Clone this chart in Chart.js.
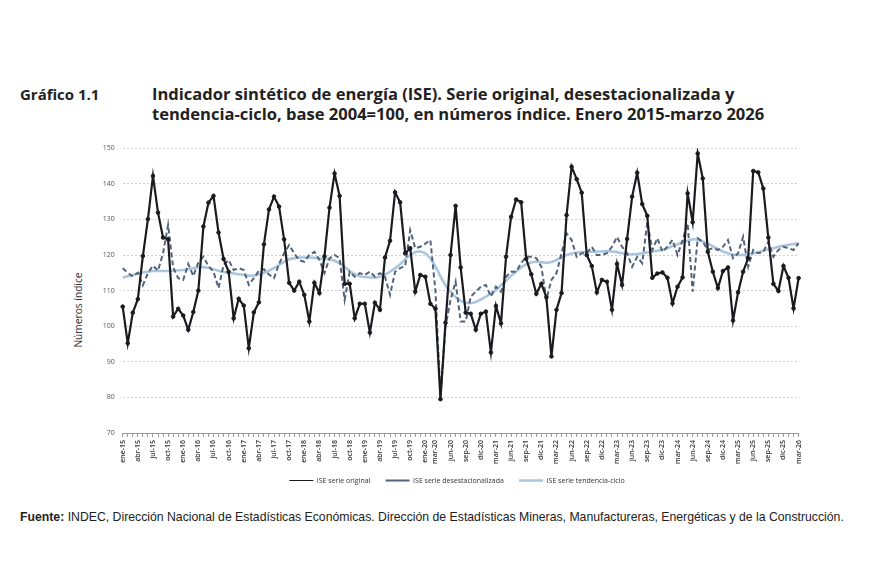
<!DOCTYPE html>
<html lang="es">
<head>
<meta charset="utf-8">
<script src="https://cdn.jsdelivr.net/npm/chart.js@4.4.0/dist/chart.umd.min.js"></script>
<style>
  body { margin: 0; background: #fff; width: 870px; height: 580px; position: relative; overflow: hidden; font-family: 'Open Sans', sans-serif; color: #222; }
  .num { position: absolute; left: 20px; top: 84px; font-weight: 700; font-size: 15px; }
  .tit { position: absolute; left: 152px; top: 84px; font-weight: 700; font-size: 16.55px; line-height: 20px; }
  .ytit { position: absolute; left: 78px; top: 310px; transform: translate(-50%, -50%) rotate(-90deg); font-size: 10.2px; color: #333; white-space: nowrap; }
  .chart-box { position: absolute; left: 60px; top: 136px; width: 750px; height: 358px; }
  .fuente { position: absolute; left: 20px; top: 510px; font-family: 'Liberation Sans', Arial, sans-serif; font-size: 12.25px; }
</style>
</head>
<body>
<div class="num">Gráfico 1.1</div>
<div class="tit">Indicador sintético de energía (ISE). Serie original, desestacionalizada y<br>tendencia-ciclo, base 2004=100, en números índice. Enero 2015-marzo 2026</div>
<div class="ytit">Números índice</div>
<div class="chart-box"><canvas id="ise_chart"></canvas></div>
<div class="fuente"><b>Fuente:</b> INDEC, Dirección Nacional de Estadísticas Económicas. Dirección de Estadísticas Mineras, Manufactureras, Energéticas y de la Construcción.</div>
<script>
// meses y años del período
const meses = ['ene', 'feb', 'mar', 'abr', 'may', 'jun', 'jul', 'ago', 'sep', 'oct', 'nov', 'dic'];
const anios = ['15', '16', '17', '18', '19', '20', '21', '22', '23', '24', '25', '26'];

// etiquetas que se muestran en el eje x
const etiquetasVisibles = [
    'ene-15', 'abr-15', 'jul-15', 'oct-15', 'ene-16', 'abr-16', 'jul-16', 'oct-16',
    'ene-17', 'abr-17', 'jul-17', 'oct-17', 'ene-18', 'abr-18', 'jul-18', 'oct-18',
    'ene-19', 'abr-19', 'jul-19', 'oct-19', 'ene-20', 'mar-20', 'jun-20', 'sep-20',
    'dic-20', 'mar-21', 'jun-21', 'sep-21', 'dic-21', 'mar-22', 'jun-22', 'sep-22',
    'dic-22', 'mar-23', 'jun-23', 'sep-23', 'dic-23', 'mar-24', 'jun-24', 'sep-24',
    'dic-24', 'mar-25', 'jun-25', 'sep-25', 'dic-25', 'mar-26'
];

// ISE serie original
const serieOriginal = [
    105.5, 95.2, 103.8, 107.6, 119.7, 130.1, 142.2, 131.9, 124.9, 124.4, 102.7, 104.9,
    103.0, 99.0, 104.0, 110.0, 128.0, 134.7, 136.6, 126.3, 118.9, 115.3, 102.2, 107.7,
    105.8, 93.8, 103.9, 106.7, 123.0, 132.8, 136.4, 133.6, 124.4, 112.2, 110.0, 112.5,
    108.8, 101.3, 112.2, 109.3, 119.6, 133.3, 142.9, 136.6, 111.9, 111.9, 102.2, 106.3,
    106.3, 98.2, 106.6, 104.6, 119.3, 124.0, 137.6, 134.8, 120.5, 121.9, 109.7, 114.4,
    113.9, 106.3, 104.9, 79.5, 101.0, 120.0, 133.8, 116.5, 103.8, 103.5, 99.0, 103.5,
    104.1, 92.6, 105.7, 100.8, 119.5, 130.7, 135.6, 134.8, 118.9, 114.6, 109.1, 111.9,
    108.1, 91.5, 104.6, 109.3, 131.2, 144.8, 141.3, 137.5, 120.0, 116.9, 109.5, 113.0,
    112.5, 104.6, 117.5, 111.6, 124.5, 136.4, 143.1, 134.3, 131.0, 113.6, 114.8, 115.1,
    113.6, 106.4, 111.1, 113.7, 137.3, 129.2, 148.5, 141.5, 120.9, 115.3, 110.7, 115.5,
    116.5, 101.6, 109.5, 115.3, 119.1, 143.6, 143.2, 138.7, 124.9, 111.9, 109.9, 116.9,
    113.6, 105.0, 113.5
];

// ISE serie desestacionalizada
const serieDesest = [
    116.3, 115.0, 114.0, 115.0, 111.5, 114.9, 117.0, 115.6, 120.5, 128.4, 116.5, 113.5,
    113.0, 117.5, 114.1, 117.9, 119.5, 116.9, 115.3, 110.7, 117.2, 118.6, 115.8, 116.3,
    115.8, 111.6, 113.5, 115.6, 116.0, 114.5, 113.5, 117.5, 120.5, 122.8, 120.5, 118.5,
    118.1, 120.0, 120.9, 118.6, 114.9, 119.1, 120.0, 119.1, 107.4, 115.3, 113.9, 114.9,
    114.4, 115.3, 113.9, 114.9, 113.9, 108.8, 115.3, 116.3, 116.9, 127.0, 121.9, 122.3,
    123.2, 124.2, 110.0, 80.3, 99.9, 107.4, 112.5, 101.3, 101.3, 108.3, 109.7, 111.1,
    111.6, 108.3, 111.1, 109.7, 113.9, 115.3, 115.3, 117.7, 119.5, 119.5, 119.1, 116.7,
    107.5, 113.0, 114.9, 120.5, 126.1, 124.2, 119.5, 120.5, 120.5, 122.3, 120.0, 120.0,
    120.5, 122.3, 125.1, 122.3, 120.5, 116.7, 119.5, 117.7, 129.3, 121.4, 124.7, 120.9,
    122.3, 124.2, 120.0, 124.2, 128.9, 109.7, 124.7, 123.7, 121.4, 121.9, 121.4, 122.3,
    124.2, 119.1, 120.5, 125.1, 116.7, 121.4, 120.5, 120.9, 123.7, 119.5, 121.4, 122.3,
    121.9, 121.4, 123.3
];

// ISE serie tendencia-ciclo
const serieTendencia = [
    113.7, 114.0, 114.4, 114.8, 115.1, 115.3, 115.5, 115.5, 115.5, 115.5, 115.6, 115.7,
    115.8, 116.0, 116.3, 116.5, 116.6, 116.4, 116.0, 115.6, 115.2, 115.0, 114.8, 114.6,
    114.4, 114.2, 114.2, 114.5, 115.0, 115.6, 116.3, 117.2, 118.1, 118.8, 119.1, 119.3,
    119.3, 119.3, 119.2, 119.0, 118.9, 118.8, 118.4, 117.7, 116.6, 115.5, 114.6, 114.0,
    113.8, 113.7, 113.7, 113.9, 114.5, 115.3, 116.3, 117.4, 118.8, 120.0, 120.8, 121.0,
    120.5, 119.0, 116.8, 114.0, 111.5, 109.6, 108.2, 107.2, 106.6, 106.5, 106.8, 107.5,
    108.3, 109.2, 110.2, 111.5, 112.8, 114.1, 115.3, 116.5, 117.4, 117.9, 118.1, 118.0,
    117.8, 118.0, 118.6, 119.3, 120.0, 120.4, 120.7, 120.8, 120.9, 120.9, 121.0, 121.0,
    121.1, 121.0, 120.8, 120.5, 120.3, 120.2, 120.3, 120.5, 120.7, 121.0, 121.2, 121.5,
    121.9, 122.5, 123.0, 123.6, 124.0, 124.4, 124.3, 123.8, 123.2, 122.4, 121.7, 121.0,
    120.5, 120.1, 120.0, 120.0, 120.1, 120.4, 120.8, 121.2, 121.6, 121.9, 122.3, 122.6,
    122.9, 123.1, 123.3
];

// etiquetas mensuales ene-15 ... mar-26
const etiquetas = [];
anios.forEach(a => meses.forEach(m => etiquetas.push(m + '-' + a)));
etiquetas.length = serieOriginal.length;

const ctx = document.getElementById('ise_chart').getContext('2d');

const iseChart = new Chart(ctx, {
    type: 'line',
    data: {
        labels: etiquetas,
        datasets: [
            {
                label: 'ISE serie original',
                data: serieOriginal,
                borderColor: '#1b1b1f',
                backgroundColor: '#1b1b1f',
                borderWidth: 2.2,
                pointRadius: 1.8,
                pointBorderWidth: 1,
                pointHoverRadius: 2.5,
                tension: 0,
                order: 1
            },
            {
                label: 'ISE serie desestacionalizada',
                data: serieDesest,
                borderColor: '#52637a',
                backgroundColor: '#52637a',
                borderWidth: 2,
                borderDash: [5, 3],
                pointRadius: 0,
                tension: 0,
                order: 2
            },
            {
                label: 'ISE serie tendencia-ciclo',
                data: serieTendencia,
                borderColor: '#aac6df',
                backgroundColor: '#aac6df',
                borderWidth: 2.6,
                pointRadius: 0,
                tension: 0.3,
                order: 3
            }
        ]
    },
    options: {
        responsive: true,
        maintainAspectRatio: false,
        animation: false,
        layout: {
            padding: { left: 14, right: 11, top: 0, bottom: 0 }
        },
        plugins: {
            legend: {
                position: 'bottom',
                fullSize: false,
                labels: {
                    color: '#333',
                    font: { family: "'Open Sans', sans-serif", size: 7 },
                    usePointStyle: true,
                    pointStyle: 'line',
                    pointStyleWidth: 24,
                    boxHeight: 7,
                    padding: 8,
                    // espacio extra entre elementos de la leyenda
                    generateLabels: (chart) => {
                        const items = Chart.defaults.plugins.legend.labels.generateLabels(chart);
                        items.forEach(it => { it.text = it.text + '\u00a0\u00a0\u00a0\u00a0'; });
                        return items;
                    }
                }
            },
            tooltip: { enabled: false }
        },
        scales: {
            x: {
                offset: false,
                grid: {
                    drawOnChartArea: false,
                    drawTicks: true,
                    tickLength: 4,
                    color: '#9a9a9a'
                },
                border: { display: true, color: '#9a9a9a' },
                ticks: {
                    autoSkip: false,
                    maxRotation: 90,
                    minRotation: 90,
                    padding: 3,
                    color: '#333',
                    font: { family: "'Open Sans', sans-serif", size: 7, weight: '600' },
                    callback: function (value) {
                        const lbl = this.getLabelForValue(value);
                        return etiquetasVisibles.includes(lbl) ? lbl : '';
                    }
                },
                afterFit: (scale) => { scale.height = 36; }
            },
            y: {
                min: 70,
                max: 150,
                ticks: {
                    stepSize: 10,
                    padding: 8,
                    color: '#555',
                    font: { family: "'Open Sans', sans-serif", size: 7 }
                },
                grid: {
                    color: '#cfcfcf',
                    lineWidth: 1,
                    drawTicks: false
                },
                border: { display: false, dash: [2, 2] },
                afterFit: (scale) => { scale.width = 48.7; }
            }
        }
    }
});
</script>
</body>
</html>
